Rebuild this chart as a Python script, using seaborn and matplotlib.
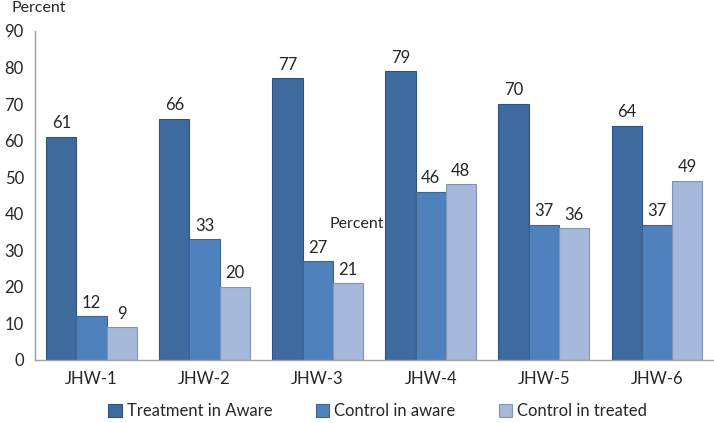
import pandas as pd
import matplotlib.pyplot as plt
import seaborn as sns

# Chart data
sites = ['JHW-1', 'JHW-2', 'JHW-3', 'JHW-4', 'JHW-5', 'JHW-6']
series_names = ['Treatment in Aware', 'Control in aware', 'Control in treated']
treatment_aware = [61, 66, 77, 79, 70, 64]
control_aware = [12, 33, 27, 46, 37, 37]
control_treated = [9, 20, 21, 48, 36, 49]

# Long format for seaborn
rows = []
for name, vals in zip(series_names, [treatment_aware, control_aware, control_treated]):
    for site, v in zip(sites, vals):
        rows.append({'site': site, 'series': name, 'value': v})
data = pd.DataFrame(rows)

sns.set_style('white')
plt.rcParams['font.family'] = ['Lato', 'DejaVu Sans']

colors = ['#3E6A9E', '#4F81BD', '#A6B9DA']
edges = ['#2E527D', '#3B6594', '#7F94B8']

fig = plt.figure(figsize=(7.14, 4.23), dpi=100)
ax = fig.add_axes([0.049, 0.149, 0.95, 0.778])

sns.barplot(data=data, x='site', y='value', hue='series', palette=colors,
            saturation=1, width=0.8, ax=ax, legend=True)

# Edges and value labels
for i, cont in enumerate(ax.containers):
    for bar in cont:
        bar.set_edgecolor(edges[i])
        bar.set_linewidth(0.8)
    ax.bar_label(cont, fmt='%d', padding=4, fontsize=12)

ax.set_ylim(0, 90)
ax.set_yticks(range(0, 91, 10))
ax.set_xlim(-0.5, 5.5)
ax.set_xlabel('')
ax.set_ylabel('')
ax.tick_params(axis='both', labelsize=12, length=0, pad=8)

for side in ['top', 'right']:
    ax.spines[side].set_visible(False)
for side in ['left', 'bottom']:
    ax.spines[side].set_color('#A0A0A0')
    ax.spines[side].set_linewidth(1)

fig.text(0.016, 0.998, 'Percent', fontsize=11.5, va='top', ha='left')
ax.text(2.35, 37.2, 'Percent', fontsize=11.5, va='center', ha='center')

leg = ax.legend(loc='upper center', bbox_to_anchor=(0.505, -0.085), ncol=3, frameon=False,
                fontsize=12, handlelength=0.8, handleheight=0.8, handletextpad=0.3,
                columnspacing=2.6)
for h, ec in zip(leg.legend_handles, edges):
    h.set_edgecolor(ec)
    h.set_linewidth(0.8)

fig.savefig('out.png', dpi=100)
